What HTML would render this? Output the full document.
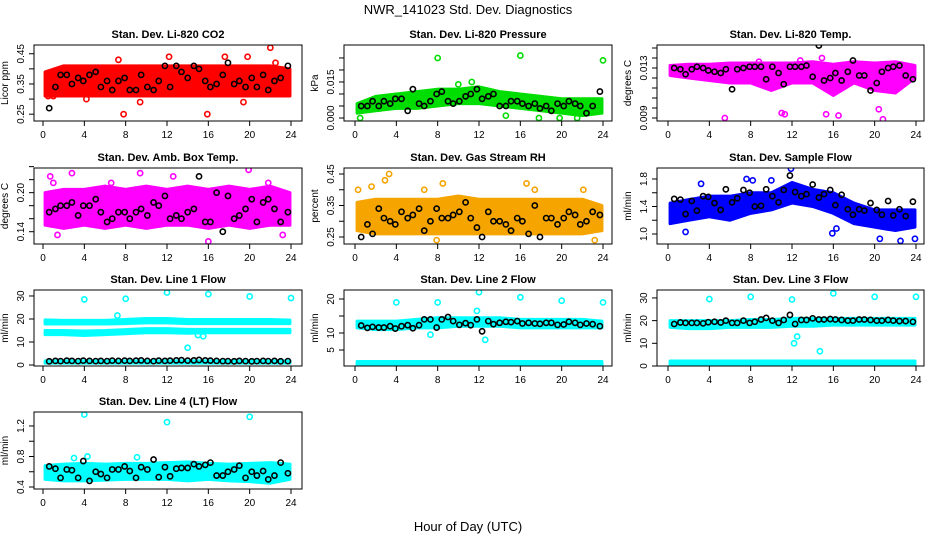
<!DOCTYPE html>
<html><head><meta charset="utf-8"><style>
html,body{margin:0;padding:0;background:#fff;}
svg{display:block;font-family:"Liberation Sans",Arial,sans-serif;}
</style></head><body>
<svg id="chart" width="936" height="540" viewBox="0 0 936 540">
<text x="468" y="14" text-anchor="middle" font-size="13">NWR_141023  Std. Dev. Diagnostics</text>
<text x="468" y="531" text-anchor="middle" font-size="13">Hour of Day (UTC)</text>
</svg>
<script>
// shared hours
const bandHours=[0.2,2,4,6,8,10,12,14,16,18,20,22,23.9];
const blackHours=[0.6,1.2,1.7,2.3,2.8,3.4,3.9,4.5,5.1,5.6,6.2,6.7,7.3,7.9,8.4,9.0,9.5,10.1,10.7,11.2,11.8,12.3,12.9,13.4,14.0,14.6,15.1,15.7,16.2,16.8,17.4,17.9,18.5,19.0,19.6,20.2,20.7,21.3,21.8,22.4,23.0,23.7];
const xTicks=[0,4,8,12,16,20,24];

const co2Lo=[0.31,0.31,0.31,0.31,0.31,0.31,0.31,0.31,0.31,0.31,0.31,0.31,0.31];
const co2Hi=[0.39,0.41,0.41,0.41,0.41,0.41,0.41,0.41,0.41,0.41,0.41,0.41,0.40];
const co2Black=[0.27,0.34,0.38,0.38,0.35,0.37,0.36,0.38,0.39,0.34,0.36,0.33,0.36,0.37,0.33,0.33,0.38,0.34,0.33,0.36,0.41,0.34,0.41,0.39,0.37,0.41,0.40,0.36,0.34,0.35,0.38,0.42,0.35,0.36,0.34,0.37,0.34,0.38,0.33,0.36,0.37,0.41];
const co2OutX=[0.5,7.8,15.9,22.0,12.2,7.3,17.6,9.4,19.4,4.2,1.0,19.8,22.5];
const co2OutY=[0.31,0.25,0.25,0.47,0.44,0.43,0.44,0.29,0.29,0.30,0.31,0.44,0.42];

const presLo=[0.002,0.003,0.004,0.004,0.005,0.006,0.006,0.005,0.004,0.003,0.002,0.001,0.002];
const presHi=[0.006,0.009,0.010,0.011,0.012,0.012,0.013,0.011,0.010,0.009,0.008,0.008,0.008];
const presBlack=[0.005,0.005,0.007,0.005,0.007,0.006,0.008,0.008,0.003,0.012,0.006,0.005,0.007,0.010,0.011,0.007,0.006,0.007,0.009,0.010,0.012,0.008,0.009,0.010,0.005,0.005,0.007,0.007,0.006,0.005,0.006,0.004,0.005,0.003,0.006,0.005,0.007,0.006,0.005,0.002,0.005,0.011];
const presOutX=[8,16,24,10,11.3,0.5,17.8,14.6,19.8,21.5];
const presOutY=[0.025,0.026,0.024,0.014,0.015,0.000,0.000,0.001,0.000,0.000];

const tempLo=[0.0124,0.0122,0.0120,0.0118,0.0118,0.0112,0.0118,0.0118,0.0108,0.0118,0.0112,0.0110,0.0122];
const tempHi=[0.0132,0.0133,0.0133,0.0134,0.0134,0.0134,0.0134,0.0135,0.0133,0.0135,0.0134,0.0135,0.0132];
const tempBlack=[0.0130,0.0129,0.0125,0.0129,0.0131,0.0130,0.0128,0.0127,0.0126,0.0129,0.0113,0.0129,0.0130,0.0131,0.0131,0.0131,0.0121,0.0131,0.0126,0.0117,0.0131,0.0131,0.0131,0.0132,0.0123,0.0148,0.0120,0.0122,0.0126,0.0120,0.0127,0.0136,0.0124,0.0124,0.0112,0.0118,0.0127,0.0130,0.0131,0.0132,0.0124,0.0121];
const tempOutX=[5.5,15.3,16.5,20.8,11,11.3,14.9,12.8,8.8,20.4];
const tempOutY=[0.0090,0.0093,0.0092,0.0089,0.0094,0.0093,0.0138,0.0136,0.0135,0.0097];

const ambLo=[0.15,0.145,0.15,0.145,0.15,0.145,0.15,0.15,0.145,0.15,0.145,0.15,0.15];
const ambHi=[0.20,0.205,0.205,0.21,0.205,0.21,0.205,0.21,0.205,0.21,0.205,0.21,0.20];
const ambBlack=[0.17,0.175,0.18,0.18,0.185,0.165,0.18,0.18,0.19,0.17,0.155,0.16,0.17,0.17,0.16,0.17,0.175,0.165,0.185,0.18,0.195,0.16,0.165,0.16,0.17,0.175,0.225,0.155,0.155,0.2,0.14,0.195,0.16,0.165,0.175,0.19,0.155,0.185,0.19,0.175,0.155,0.17];
const ambOutX=[2.8,9.4,19.9,1.4,16,23.2,0.7,12.6,6.6,1.0,21.8];
const ambOutY=[0.23,0.23,0.235,0.135,0.125,0.135,0.225,0.225,0.215,0.215,0.215];

const rhLo=[0.27,0.26,0.26,0.26,0.26,0.26,0.26,0.26,0.26,0.26,0.26,0.26,0.27];
const rhHi=[0.36,0.37,0.37,0.37,0.37,0.38,0.37,0.37,0.37,0.37,0.37,0.37,0.35];
const rhBlack=[0.25,0.29,0.26,0.34,0.31,0.30,0.29,0.33,0.31,0.32,0.34,0.27,0.30,0.34,0.31,0.31,0.32,0.33,0.36,0.31,0.28,0.25,0.33,0.30,0.30,0.29,0.27,0.31,0.30,0.26,0.35,0.25,0.31,0.31,0.29,0.31,0.33,0.32,0.29,0.30,0.33,0.32];
const rhOutX=[3.3,2.9,8.5,16.6,0.3,7.9,23.2,1.6,6.7,22.1,17.4];
const rhOutY=[0.45,0.43,0.42,0.42,0.40,0.24,0.24,0.41,0.40,0.40,0.40];

const flowLo=[1.15,1.2,1.25,1.2,1.3,1.35,1.45,1.4,1.3,1.15,1.1,1.05,1.1];
const flowHi=[1.45,1.5,1.55,1.55,1.6,1.6,1.75,1.65,1.6,1.45,1.35,1.35,1.35];
const flowBlack=[1.51,1.50,1.29,1.48,1.34,1.55,1.54,1.45,1.35,1.65,1.46,1.52,1.64,1.60,1.40,1.41,1.65,1.55,1.46,1.64,1.85,1.61,1.55,1.58,1.72,1.53,1.58,1.64,1.42,1.57,1.36,1.28,1.36,1.34,1.45,1.35,1.28,1.48,1.27,1.36,1.26,1.47];
const flowOutX=[1.7,3.2,7.6,8.2,10.0,11.9,15.9,16.3,20.5,22.5,23.9];
const flowOutY=[1.03,1.73,1.80,1.78,1.78,1.95,1.01,1.08,0.93,0.90,0.93];

const l1UpLo=[17.8,17.8,17.8,17.8,18,18.3,18.3,18,18,18,18,18,18];
const l1UpHi=[19.6,19.4,19.4,19.4,19.8,20.2,20.2,19.8,19.8,19.8,19.8,19.8,19.5];
const l1LowLo=[13.2,13.2,12.8,13.2,13.6,14,14,13.8,14,14,14,14,14];
const l1LowHi=[15,15,14.8,15,15.4,15.8,15.8,15.5,15.5,15.5,15.5,15.5,15.5];
const l1BotLo=[0.8,0.8,0.8,0.8,0.8,0.8,0.8,0.8,0.8,0.8,0.8,0.8,0.8];
const l1BotHi=[1.8,1.8,1.8,1.8,1.8,1.8,1.8,1.8,1.8,1.8,1.8,1.8,1.8];
const l1Black=[1.6,1.8,1.7,1.9,1.8,1.7,1.9,1.8,1.7,1.8,1.7,1.9,1.8,1.9,1.8,1.9,2.0,1.8,1.7,1.9,1.8,1.9,2.0,2.1,1.9,2.0,2.2,2.0,1.9,1.8,1.7,1.7,1.6,1.8,1.7,1.6,1.7,1.8,1.7,1.8,1.6,1.7];
const l1OutX=[4,8,12,16,20,24,14,7.2,15.0,15.5];
const l1OutY=[28.5,28.8,31.5,30.8,29.8,29.1,7.5,21.5,13.0,12.5];

const l2Lo=[11.5,11,11,11.5,11.5,12,12,12,11.5,11.5,11.5,11.5,11.5];
const l2Hi=[13.5,13.5,13.5,14,14.5,14.5,14.5,14.5,14,14,14,14,13.5];
const l2BotLo=[0.4,0.4,0.4,0.4,0.4,0.4,0.4,0.4,0.4,0.4,0.4,0.4,0.4];
const l2BotHi=[1.6,1.6,1.6,1.6,1.6,1.6,1.6,1.6,1.6,1.6,1.6,1.6,1.6];
const l2Black=[12.2,11.5,11.8,11.6,11.6,12.0,11.3,12.0,12.3,11.4,12.3,14.0,14.0,11.6,14.0,14.7,13.5,12.4,12.9,12.3,14.0,10.5,13.5,12.6,13.0,13.3,13.2,13.5,12.8,13.0,12.8,12.7,13.0,13.0,12.4,12.5,13.3,13.0,12.4,12.8,12.6,12.0];
const l2OutX=[4,8,12,16,20,24,12.6,7.3,11.8];
const l2OutY=[19,19,22,20.5,19.5,19,8,9.5,16.5];

const l3Lo=[17,16.5,16.5,17,17,17,17.5,17.5,18,18,18,18,18];
const l3Hi=[20,20,20,20,20.5,20.5,21,21,21,21,21,21,21];
const l3BotLo=[0.5,0.5,0.5,0.5,0.5,0.5,0.5,0.5,0.5,0.5,0.5,0.5,0.5];
const l3BotHi=[2.2,2.2,2.2,2.2,2.2,2.2,2.2,2.2,2.2,2.2,2.2,2.2,2.2];
const l3Black=[18.5,19.2,19.0,19.0,19.0,18.8,19.3,19.5,19.2,20.0,19.0,19.0,20.0,19.0,19.5,20.5,21.2,20.0,19.0,20.3,22.5,18.5,20.3,20.3,21.0,20.5,20.5,20.7,20.5,20.3,20.0,20.0,20.5,20.5,20.3,20.0,20.0,20.3,20.0,19.8,19.8,19.5];
const l3OutX=[4,8,12,16,20,24,12.2,12.5,14.7];
const l3OutY=[29.5,30.5,29.3,32,30.5,30.5,10,13,6.5];

const l4Lo=[0.5,0.48,0.48,0.49,0.5,0.5,0.5,0.48,0.5,0.48,0.47,0.45,0.5];
const l4Hi=[0.68,0.70,0.71,0.70,0.71,0.71,0.72,0.73,0.71,0.70,0.71,0.72,0.70];
const l4Black=[0.67,0.64,0.52,0.63,0.62,0.52,0.74,0.48,0.60,0.57,0.52,0.63,0.63,0.67,0.61,0.52,0.66,0.63,0.76,0.53,0.66,0.54,0.64,0.65,0.65,0.70,0.67,0.69,0.72,0.55,0.55,0.60,0.63,0.68,0.52,0.60,0.55,0.61,0.50,0.55,0.72,0.58];
const l4OutX=[4,12,20,3.0,9.1,4.3];
const l4OutY=[1.35,1.25,1.32,0.78,0.79,0.80];

const panels=[
 {name:"co2",title:"Stan. Dev. Li-820 CO2",ylab:"Licor ppm",col:0,row:0,dom:[0.2274,0.479],color:"#ff0000",bands:[[co2Lo,co2Hi]],black:co2Black,ox:co2OutX,oy:co2OutY,ticks:[0.25,0.30,0.35,0.40,0.45],labels:["0.25","","0.35","","0.45"]},
 {name:"pressure",title:"Stan. Dev. Li-820 Pressure",ylab:"kPa",col:1,row:0,dom:[-0.00125,0.0304],color:"#00dd00",bands:[[presLo,presHi]],black:presBlack,ox:presOutX,oy:presOutY,ticks:[0,0.005,0.010,0.015,0.020,0.025],labels:["0.000","","","0.015","",""]},
 {name:"temp",title:"Stan. Dev. Li-820 Temp.",ylab:"degrees C",col:2,row:0,dom:[0.00876,0.01484],color:"#ff00ff",bands:[[tempLo,tempHi]],black:tempBlack,ox:tempOutX,oy:tempOutY,ticks:[0.009,0.0098,0.0106,0.0114,0.0122,0.013,0.0138,0.0146],labels:["0.009","","","","","0.013","",""]},
 {name:"amb-box",title:"Stan. Dev. Amb. Box Temp.",ylab:"degrees C",col:0,row:1,dom:[0.1211,0.2379],color:"#ff00ff",bands:[[ambLo,ambHi]],black:ambBlack,ox:ambOutX,oy:ambOutY,ticks:[0.14,0.16,0.18,0.20,0.22,0.24],labels:["0.14","","","0.20","",""]},
 {name:"rh",title:"Stan. Dev. Gas Stream RH",ylab:"percent",col:1,row:1,dom:[0.2278,0.469],color:"#f5a400",bands:[[rhLo,rhHi]],black:rhBlack,ox:rhOutX,oy:rhOutY,ticks:[0.25,0.30,0.35,0.40,0.45],labels:["0.25","","0.35","","0.45"]},
 {name:"sample-flow",title:"Stan. Dev. Sample Flow",ylab:"ml/min",col:2,row:1,dom:[0.8545,1.96],color:"#0000ff",bands:[[flowLo,flowHi]],black:flowBlack,ox:flowOutX,oy:flowOutY,ticks:[1.0,1.2,1.4,1.6,1.8],labels:["1.0","","1.4","","1.8"]},
 {name:"line1",title:"Stan. Dev. Line 1 Flow",ylab:"ml/min",col:0,row:2,dom:[-0.43,32.6],color:"#00ffff",bands:[[l1UpLo,l1UpHi],[l1LowLo,l1LowHi],[l1BotLo,l1BotHi]],black:l1Black,ox:l1OutX,oy:l1OutY,ticks:[0,10,20,30],labels:["0","10","20","30"]},
 {name:"line2",title:"Stan. Dev. Line 2 Flow",ylab:"ml/min",col:1,row:2,dom:[0.294,22.65],color:"#00ffff",bands:[[l2Lo,l2Hi],[l2BotLo,l2BotHi]],black:l2Black,ox:l2OutX,oy:l2OutY,ticks:[5,10,15,20],labels:["5","10","","20"]},
 {name:"line3",title:"Stan. Dev. Line 3 Flow",ylab:"ml/min",col:2,row:2,dom:[0,33.5],color:"#00ffff",bands:[[l3Lo,l3Hi],[l3BotLo,l3BotHi]],black:l3Black,ox:l3OutX,oy:l3OutY,ticks:[0,10,20,30],labels:["0","10","20","30"]},
 {name:"line4",title:"Stan. Dev. Line 4 (LT) Flow",ylab:"ml/min",col:0,row:3,dom:[0.374,1.383],color:"#00ffff",bands:[[l4Lo,l4Hi]],black:l4Black,ox:l4OutX,oy:l4OutY,ticks:[0.4,0.6,0.8,1.0,1.2],labels:["0.4","","0.8","","1.2"]}
];
const colBox=[[34,302,43],[344,612,355],[657,924,668]];
const rowBox=[[45,121],[168,244],[290,366],[412,489]];
const NS="http://www.w3.org/2000/svg";
const svg=document.getElementById('chart');
function mk(tag,attrs,parent){const e=document.createElementNS(NS,tag);for(const k in attrs)e.setAttribute(k,attrs[k]);(parent||svg).appendChild(e);return e;}
panels.forEach(p=>{
 const [bl,br,x0]=colBox[p.col];const [bt,bb]=rowBox[p.row];
 const g=mk('g',{});
 
 
 const xs=h=>x0+h*(248/24);
 const ys=v=>bb-(v-p.dom[0])/(p.dom[1]-p.dom[0])*(bb-bt);
 const clip='clip-'+p.name;
 const cp=mk('clipPath',{id:clip},g);mk('rect',{x:bl,y:bt,width:br-bl,height:bb-bt},cp);
 const plot=mk('g',{'clip-path':'url(#'+clip+')'},g);
 p.bands.forEach(b=>{
  const pts=[];bandHours.forEach((h,i)=>pts.push(xs(h)+','+ys(b[1][i])));
  for(let i=bandHours.length-1;i>=0;i--)pts.push(xs(bandHours[i])+','+ys(b[0][i]));
  const poly=mk('polygon',{points:pts.join(' '),fill:p.color,stroke:p.color,'stroke-width':3,'stroke-linejoin':'round'},plot);
  
  
 });
 p.ox.forEach((h,i)=>{
  const c=mk('circle',{cx:xs(h),cy:ys(p.oy[i]),r:2.6,fill:'none',stroke:p.color,'stroke-width':1.6},plot);
  
  
 });
 p.black.forEach((v,i)=>{
  const c=mk('circle',{cx:xs(blackHours[i]),cy:ys(v),r:2.6,fill:'none',stroke:'#000','stroke-width':1.6},plot);
  
  
 });
 mk('rect',{x:bl,y:bt,width:br-bl,height:bb-bt,fill:'none',stroke:'#000','stroke-width':1},g);
 const t=mk('text',{x:(bl+br)/2,y:bt-7,'text-anchor':'middle','font-size':11,'font-weight':'bold'},g);t.textContent=p.title;
 
 
 const yl=mk('text',{x:0,y:0,'text-anchor':'middle','font-size':10,transform:`translate(${bl-26},${(bt+bb)/2}) rotate(-90)`},g);yl.textContent=p.ylab;
 
 
 p.ticks.forEach((v,i)=>{
  const y=ys(v);mk('line',{x1:bl-5,x2:bl,y1:y,y2:y,stroke:'#000'},g);
  if(p.labels[i]){const tl=mk('text',{x:0,y:0,'text-anchor':'middle','font-size':10,transform:`translate(${bl-10},${y}) rotate(-90)`},g);tl.textContent=p.labels[i];
   
   }
 });
 xTicks.forEach(h=>{
  const x=xs(h);mk('line',{x1:x,x2:x,y1:bb,y2:bb+5,stroke:'#000'},g);
  const tl=mk('text',{x:x,y:bb+17,'text-anchor':'middle','font-size':10},g);tl.textContent=h;
  
  
 });
});
</script>
</body></html>
